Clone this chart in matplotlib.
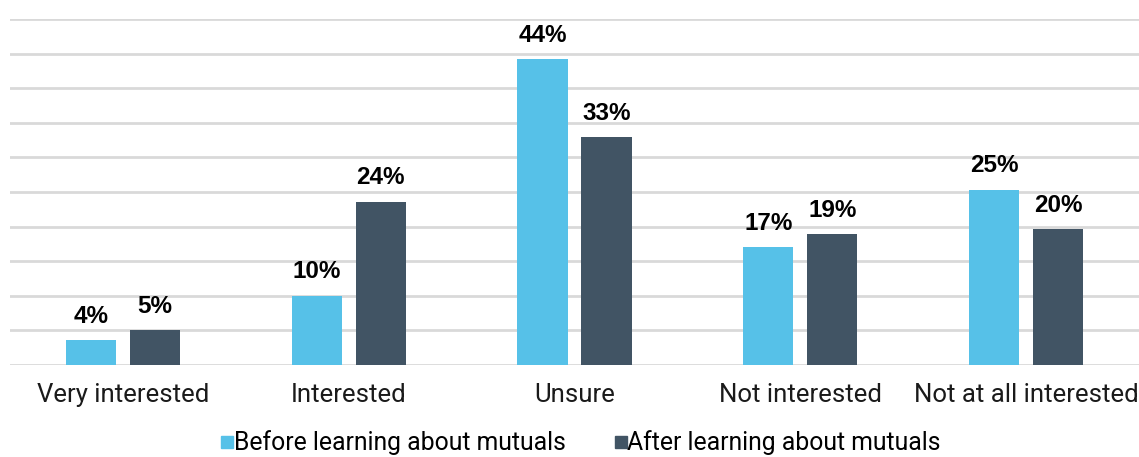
import matplotlib
matplotlib.use("Agg")
import matplotlib.pyplot as plt
import numpy as np
from matplotlib.lines import Line2D

categories = ["Very interested", "Interested", "Unsure", "Not interested", "Not at all interested"]
before = [3.6, 10.0, 44.2, 17.0, 25.3]
after = [5.0, 23.6, 32.9, 18.9, 19.6]
series_names = ["Before learning about mutuals", "After learning about mutuals"]

light = "#56C1E8"
dark = "#415464"
grid_col = "#D9D9D9"

plt.rcParams["font.family"] = ["Roboto", "DejaVu Sans"]

fig = plt.figure(figsize=(11.39, 4.57), dpi=100)
ax = fig.add_axes([10 / 1139, 1 - 365 / 457, 1129 / 1139, 346 / 457])

x = np.arange(len(categories))
w = 0.222
off = 0.142

b1 = ax.bar(x - off, before, w, color=light, zorder=3)
b2 = ax.bar(x + off, after, w, color=dark, zorder=3)

for bars, vals in ((b1, before), (b2, after)):
    for rect, v in zip(bars, vals):
        ax.annotate(f"{v:.0f}%", (rect.get_x() + rect.get_width() / 2, v),
                    xytext=(0, 9), textcoords="offset points",
                    ha="center", va="bottom", fontsize=17.5, fontweight="bold",
                    family=["Liberation Sans", "DejaVu Sans"], color="black",
                    annotation_clip=False)

ax.set_xlim(-0.5, len(categories) - 0.5)
ax.set_ylim(0, 50)
ax.set_yticks(np.arange(0, 51, 5))
ax.yaxis.grid(True, color=grid_col, linewidth=2, zorder=0)
ax.set_yticklabels([])
ax.tick_params(axis="y", length=0)
ax.set_xticks(x)
ax.set_xticklabels(categories, fontsize=18.5, color="#1a1a1a")
ax.tick_params(axis="x", length=0, pad=13)
for s in ax.spines.values():
    s.set_visible(False)

handles = [Line2D([], [], marker="s", linestyle="", markersize=9, color=light),
           Line2D([], [], marker="s", linestyle="", markersize=9, color=dark)]
fig.legend(handles, series_names, loc="center", bbox_to_anchor=(578 / 1139, 1 - 443 / 457),
           ncol=2, frameon=False, fontsize=17.8, handletextpad=-0.25, columnspacing=1.75,
           handlelength=1.0, borderaxespad=0, borderpad=0)

fig.savefig("out.png", dpi=100)
